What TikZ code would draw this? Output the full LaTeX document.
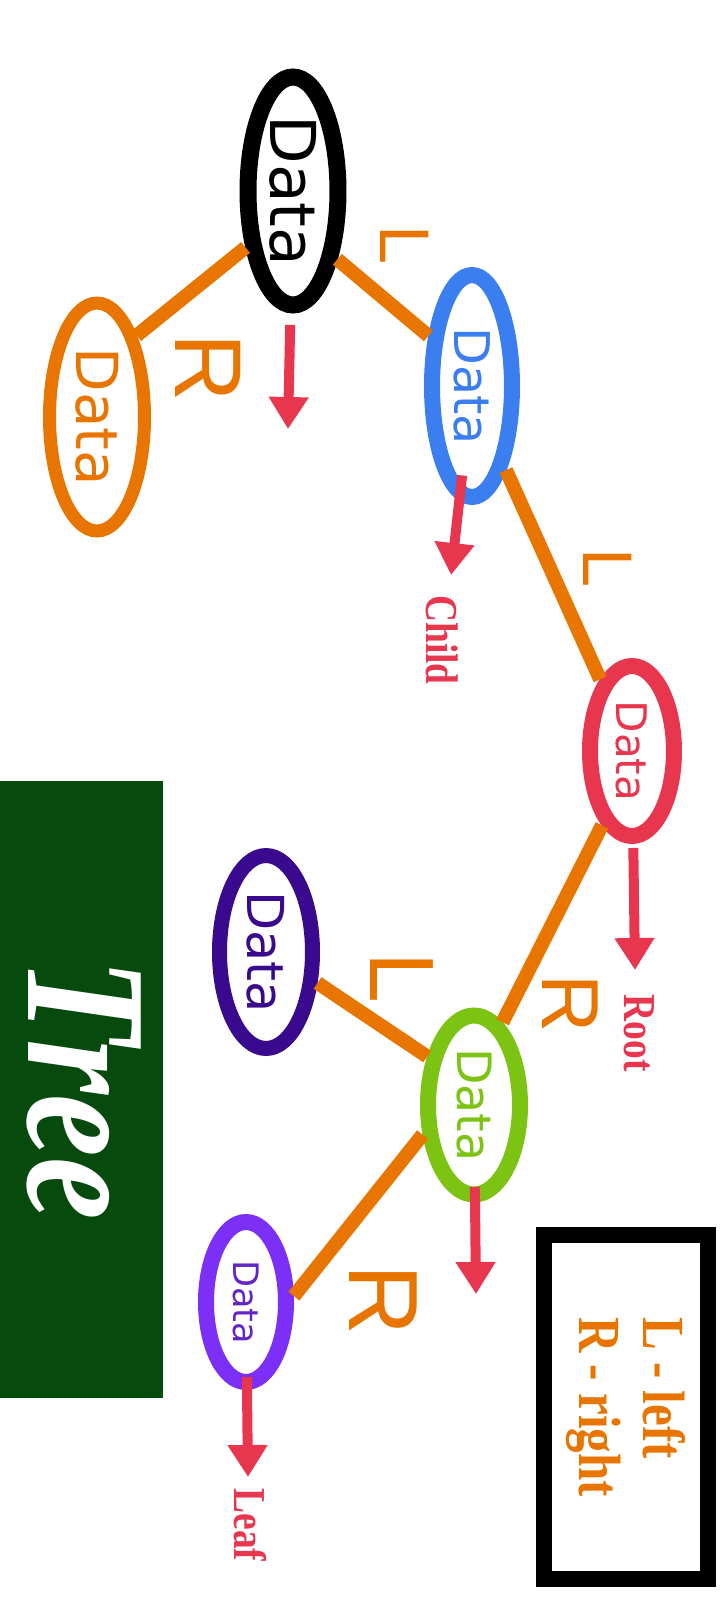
\documentclass[tikz,border=0pt]{standalone}
\usepackage{fontspec}
\usepackage{xcolor}
\usepackage{graphicx}
\usetikzlibrary{arrows.meta, shapes.geometric}

\newfontfamily\datafont{DejaVu Sans}
\newfontfamily\handfont{Liberation Sans}
\newfontfamily\condfont[FakeStretch=0.82]{Liberation Serif}
\newfontfamily\titlefont[FakeStretch=0.82]{Liberation Serif}
\newcommand{\setfs}[1]{\fontsize{#1}{#1}\selectfont}
\newcommand{\vtext}[1]{\rotatebox{-90}{#1}}

\definecolor{edgeorange}{HTML}{E87500}
\definecolor{datablue}{HTML}{3A7EF0}
\definecolor{datared}{HTML}{E8364E}
\definecolor{dataindigo}{HTML}{3A0A8E}
\definecolor{datagreen}{HTML}{7CC313}
\definecolor{dataviolet}{HTML}{7B2FF7}
\definecolor{bannergreen}{HTML}{064A0E}

\begin{document}
\begin{tikzpicture}[
    x=0.02cm, y=-0.02cm,
    datanode/.style={ellipse, draw, inner sep=0pt, line width=0.32cm},
    edge/.style={edgeorange, line width=0.28cm},
    pointer/.style={-{Triangle[length=0.64cm, width=0.76cm]}, datared, line width=0.2cm},
    sidemark/.style={text=edgeorange, rotate=-90, inner sep=0pt},
    pointerlabel/.style={text=datared, rotate=-90, inner sep=0pt, font={\condfont\bfseries\setfs{26}}}
]
\useasboundingbox (0,0) rectangle (720,1600);

% Banner and legend
\node[fill=bannergreen, rotate=-90, minimum width=12.34cm, minimum height=3.26cm, inner sep=0pt] (banner) at (81.5,1089.5) {};
\node[rotate=-90, inner sep=0pt, text=white, font={\titlefont\bfseries\itshape\setfs{98}}] (title) at (84,1089) {Tree};
\node[draw=black, line width=0.32cm, rotate=-90, minimum width=6.9cm, minimum height=3.3cm,
      align=left, text=edgeorange, font={\condfont\bfseries\fontsize{34}{36}\selectfont}] (legend) at (626,1407) {L - left\\R - right};

% Nodes
\node[datanode, draw=datared, minimum width=1.68cm, minimum height=3.4cm,
      text=datared, font={\datafont\setfs{24}}] (root) at (632,751) {\vtext{Data}};
\node[datanode, draw=datablue, minimum width=1.6cm, minimum height=4.44cm,
      text=datablue, font={\datafont\setfs{28}}] (l) at (472,386) {\vtext{Data}};
\node[datanode, draw=black, line width=0.34cm, minimum width=1.8cm, minimum height=4.56cm,
      text=black, font={\datafont\setfs{36}}] (ll) at (293,191) {\vtext{Data}};
\node[datanode, draw=edgeorange, line width=0.26cm, minimum width=1.9cm, minimum height=4.56cm,
      text=edgeorange, font={\datafont\setfs{33}}] (llr) at (97,417) {\vtext{Data}};
\node[datanode, draw=datagreen, minimum width=1.84cm, minimum height=3.58cm,
      text=datagreen, font={\datafont\setfs{27}}] (r) at (474,1105) {\vtext{Data}};
\node[datanode, draw=dataindigo, line width=0.3cm, minimum width=1.86cm, minimum height=3.86cm,
      text=dataindigo, font={\datafont\setfs{29}}] (rl) at (266,952) {\vtext{Data}};
\node[datanode, draw=dataviolet, minimum width=1.6cm, minimum height=3.2cm,
      text=dataviolet!80!black, font={\datafont\setfs{20}}] (rr) at (246,1302) {\vtext{Data}};

% Edges
\draw[edge] (root.-112) -- (r.71);
\draw[edge] (root.114) -- (l.-68);
\draw[edge] (l.131) -- (ll.-57);
\draw[edge] (ll.230) -- (llr.64);
\draw[edge] (r.134) -- (rl.-31);
\draw[edge] (r.210) -- (rr.7);

% Side marks
\node[sidemark, font={\handfont\setfs{40}}] (markLL) at (405,245) {L};
\node[sidemark, font={\handfont\setfs{54}}] (markLLR) at (208,368) {R};
\node[sidemark, font={\handfont\setfs{40}}] (markL) at (608,568) {L};
\node[sidemark, font={\handfont\setfs{46}}] (markR) at (570,1004) {R};
\node[sidemark, font={\handfont\setfs{52}}] (markRL) at (402,978) {L};
\node[sidemark, font={\handfont\setfs{56}}] (markRR) at (383,1300) {R};

% Pointers
\coordinate (llTip) at (288,429);
\coordinate (lTip) at (451,575);
\coordinate (rootTip) at (635,970);
\coordinate (rTip) at (476,1294);
\coordinate (rrTip) at (248,1477);
\draw[pointer, shorten <=2.68cm] (ll.center) -- (llTip);
\draw[pointer, shorten <=1.8cm] (l.center) -- (lTip);
\draw[pointer, shorten <=1.94cm] (root.center) -- (rootTip);
\draw[pointer, shorten <=1.64cm] (r.center) -- (rTip);
\draw[pointer, shorten <=1.5cm] (rr.center) -- (rrTip);

\node[pointerlabel] (childLabel) at (442,640) {Child};
\node[pointerlabel] (rootLabel) at (639,1033) {Root};
\node[pointerlabel] (leafLabel) at (250,1525) {Leaf};

\end{tikzpicture}
\end{document}
